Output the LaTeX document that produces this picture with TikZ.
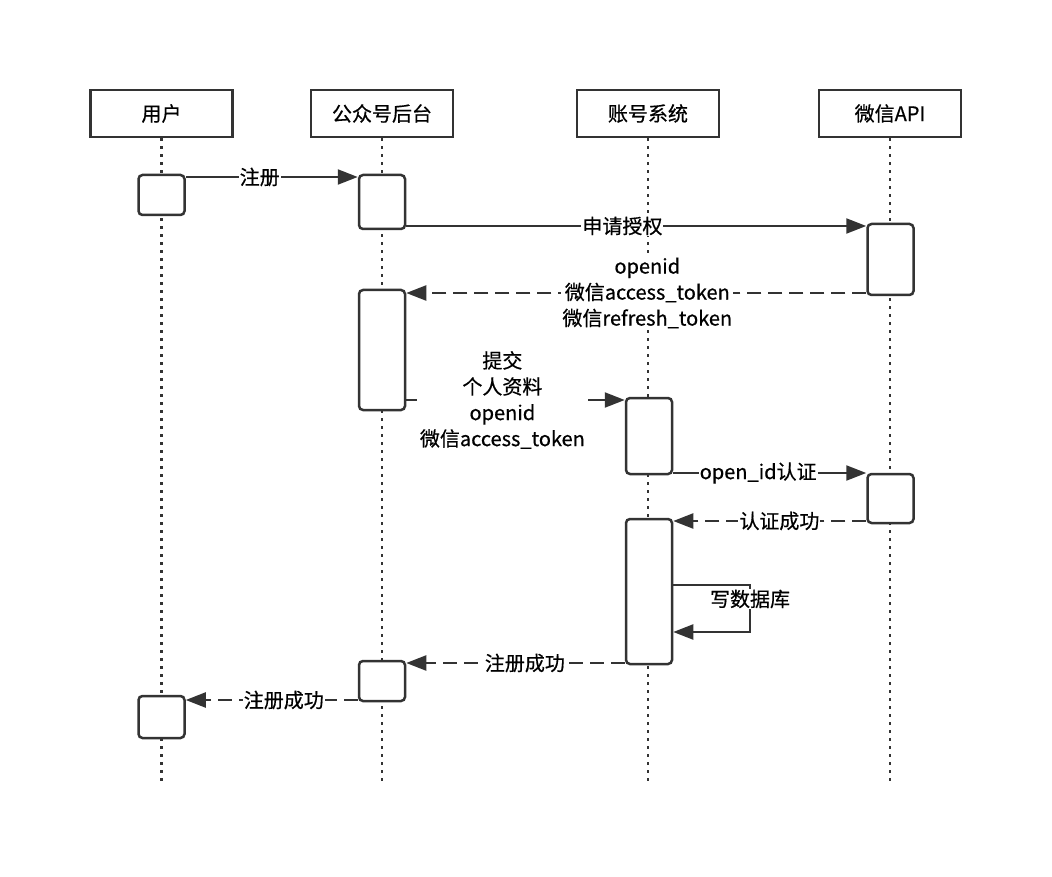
\documentclass[tikz,border=0pt]{standalone}
\usepackage{fontspec}
\setmainfont{Noto Sans CJK SC}[FakeBold=0.6]
\usetikzlibrary{arrows.meta}
\definecolor{ink}{HTML}{333333}
\tikzset{
  head/.style={draw=ink, line width=2.5pt, minimum width=142pt, minimum height=47pt, inner sep=0pt, fill=white, font=\fontsize{20}{24}\selectfont},
  act/.style={draw=ink, line width=2.5pt, rounded corners=4pt, minimum width=46pt, inner sep=0pt, fill=white},
  life/.style={draw=ink, line width=2.6pt, dash pattern=on 2.6pt off 5.4pt},
  msg/.style={draw=ink, line width=2.2pt, -{Triangle[length=20pt,width=15pt]}},
  ret/.style={msg, dash pattern=on 14pt off 7pt},
  lbl/.style={fill=white, inner sep=1pt, align=center, text=black, font=\fontsize{20}{26}\selectfont}
}
\begin{document}
\begin{tikzpicture}[x=1pt,y=-1pt]
\useasboundingbox (0,0) rectangle (1052,877);
% headers
\node[head] (hu) at (161.5,113.5) {用户};
\node[head] (hp) at (382,113.5) {公众号后台};
\node[head] (ha) at (648,113.5) {账号系统};
\node[head] (hw) at (890,113.5) {微信API};
% lifeline ends
\coordinate (eu) at (161.5,782);
\coordinate (ep) at (382,782);
\coordinate (ea) at (648,782);
\coordinate (ew) at (890,782);
\draw[life] (hu.south) -- (eu);
\draw[life] (hp.south) -- (ep);
\draw[life] (ha.south) -- (ea);
\draw[life] (hw.south) -- (ew);
% activations
\node[act, minimum height=40pt] (u1) at (161.5,195) {};
\node[act, minimum height=54pt] (p1) at (382,202) {};
\node[act, minimum height=71pt] (w1) at (890.5,259.5) {};
\node[act, minimum height=120pt] (p2) at (382,350) {};
\node[act, minimum height=76pt] (a1) at (649,436) {};
\node[act, minimum height=49pt] (w2) at (890.5,498.5) {};
\node[act, minimum height=145pt] (a2) at (649,591.5) {};
\node[act, minimum height=40pt] (p3) at (382,681) {};
\node[act, minimum height=42pt] (u2) at (161.5,717) {};
% messages
\draw[msg] (u1.east |- 0,177) -- node[lbl, pos=0.43] {注册} (p1.west |- 0,177);
\draw[msg] (p1.east |- 0,226) -- node[lbl, pos=0.47] {申请授权} (w1.west |- 0,226);
\draw[ret] (w1.west |- 0,293) -- node[lbl, pos=0.476] {openid\\微信access\_token\\微信refresh\_token} (p2.east |- 0,293);
\draw[msg] (p2.east |- 0,400) -- node[lbl, pos=0.44, inner sep=3pt] {提交\\个人资料\\openid\\微信access\_token} (a1.west |- 0,400);
\draw[msg] (a1.east |- 0,473) -- node[lbl, pos=0.44] {open\_id认证} (w2.west |- 0,473);
\draw[ret] (w2.west |- 0,521) -- node[lbl, pos=0.45] {认证成功} (a2.east |- 0,521);
\coordinate (l1) at (750,585);
\coordinate (l2) at (750,632);
\draw[msg] (a2.east |- l1) -- (l1) -- (l2) -- (a2.east |- l2);
\node[lbl] (lw) at (750,599) {写数据库};
\draw[ret] (a2.west |- 0,663) -- node[lbl, pos=0.457] {注册成功} (p3.east |- 0,663);
\draw[ret] (p3.west |- 0,700) -- node[lbl, pos=0.43] {注册成功} (u2.east |- 0,700);
\end{tikzpicture}
\end{document}
